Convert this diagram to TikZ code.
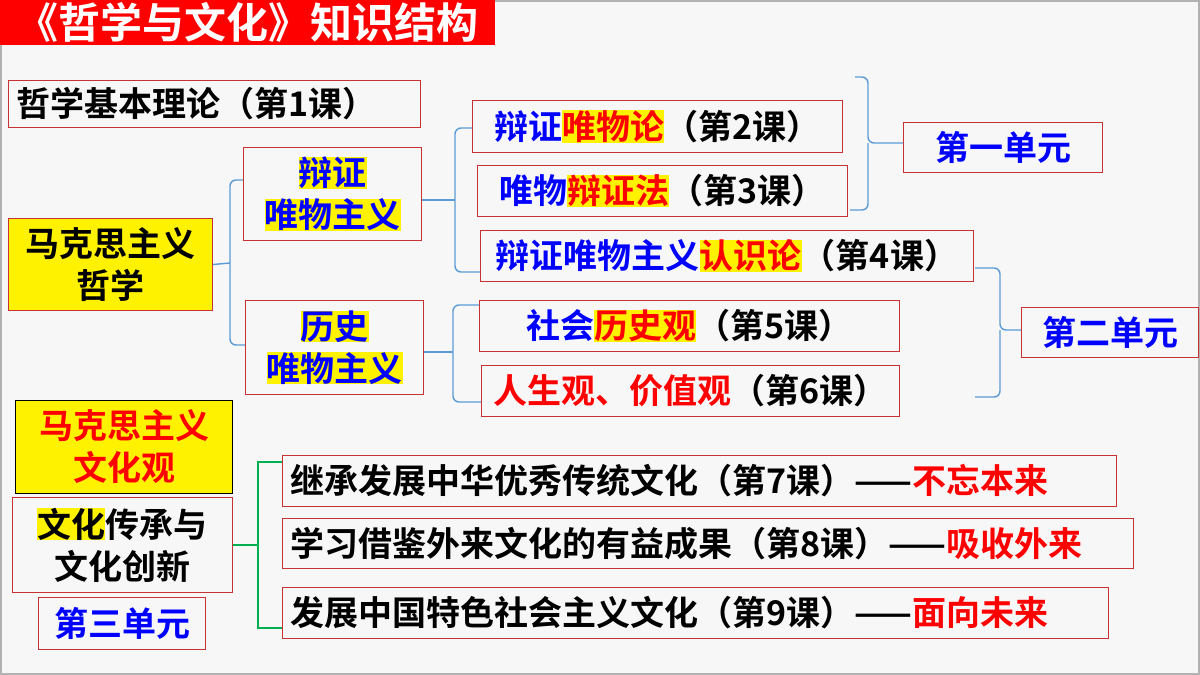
\documentclass[tikz,border=0pt]{standalone}
\usepackage{fontspec}
\setmainfont{Noto Sans CJK SC}[BoldFont={* Bold}]
\usetikzlibrary{positioning}
\definecolor{lineblue}{RGB}{91,155,213}
\definecolor{linegreen}{RGB}{0,176,80}
\definecolor{boxred}{RGB}{200,50,50}
\definecolor{txtblue}{RGB}{0,0,255}
\definecolor{txtred}{RGB}{255,0,0}
\newcommand\hly[1]{{\setlength\fboxsep{0pt}\colorbox{yellow}{#1}}}
\tikzset{
  lbox/.style={draw=boxred, line width=1pt, anchor=north west, inner sep=0pt,
    font=\fontsize{34}{42}\selectfont\bfseries, align=center},
  lleft/.style={lbox, text width=#1, align=left, inner xsep=8pt},
  brace/.style={draw=lineblue, line width=1.4pt, rounded corners=6pt},
}
\begin{document}
\begin{tikzpicture}[x=1pt, y=-1pt]
    \fill[gray!6] (0,0) rectangle (1200,675);
    \draw[gray!60, line width=2pt] (1,1) rectangle (1199,674);
    % Title
    \node [fill=txtred, anchor=north west, minimum width=495pt, minimum height=45pt, inner sep=0pt,
      text=white, font=\fontsize{42}{44}\selectfont\bfseries] (title) at (0,0) {《哲学与文化》知识结构};

    % Left column
    \node [lleft=396pt, minimum height=47pt] (k1) at (8,80) {哲学基本理论（第1课）};
    \node [lbox, fill=yellow, minimum width=204pt, minimum height=92pt] (mkzx) at (8,218) {马克思主义\\哲学};
    \node [lbox, minimum width=178pt, minimum height=93pt, text=txtblue] (bzwz) at (243,147) {\hly{辩证}\\\hly{唯物主义}};
    \node [lbox, minimum width=178pt, minimum height=94pt, text=txtblue] (lswz) at (245,300) {\hly{历史}\\\hly{唯物主义}};

    % Lessons 2-6
    \node [lbox, minimum width=370pt, minimum height=52pt] (k2) at (472,100) {\textcolor{txtblue}{辩证\hly{\textcolor{txtred}{唯物论}}}（第2课）};
    \node [lbox, minimum width=370pt, minimum height=51pt] (k3) at (477,165) {\textcolor{txtblue}{唯物\hly{\textcolor{txtred}{辩证法}}}（第3课）};
    \node [lbox, minimum width=493pt, minimum height=51pt] (k4) at (480,230) {\textcolor{txtblue}{辩证唯物主义\hly{\textcolor{txtred}{认识论}}}（第4课）};
    \node [lbox, minimum width=420pt, minimum height=51pt] (k5) at (479,300) {\textcolor{txtblue}{社会\hly{\textcolor{txtred}{历史观}}}（第5课）};
    \node [lbox, minimum width=418pt, minimum height=51pt] (k6) at (481,365) {\textcolor{txtred}{人生观、价值观}（第6课）};

    % Units
    \node [lbox, minimum width=199pt, minimum height=50pt, text=txtblue] (u1) at (903,122) {第一单元};
    \node [lbox, minimum width=177pt, minimum height=50pt, text=txtblue] (u2) at (1021,307) {第二单元};

    % Culture part
    \node [lbox, draw=black, fill=yellow, minimum width=217pt, minimum height=93pt, text=txtred] (mkwh) at (15,400) {马克思主义\\文化观};
    \node [lbox, minimum width=220pt, minimum height=95pt] (whcc) at (12,497) {\hly{文化}传承与\\文化创新};
    \node [lbox, minimum width=167pt, minimum height=52pt, text=txtblue] (u3) at (38,597) {第三单元};
    \node [lleft=818pt, minimum height=51pt] (k7) at (282,455) {继承发展中华优秀传统文化（第7课）——\textcolor{txtred}{不忘本来}};
    \node [lleft=835pt, minimum height=50pt] (k8) at (282,518) {学习借鉴外来文化的有益成果（第8课）——\textcolor{txtred}{吸收外来}};
    \node [lleft=810pt, minimum height=51pt] (k9) at (282,587) {发展中国特色社会主义文化（第9课）——\textcolor{txtred}{面向未来}};

    % Brackets
    \draw [brace] (mkzx.east) -- (230,263);
    \draw [brace] (bzwz.west |- 0,180) -- (230,180) -- (230,345) -- (lswz.west |- 0,345);
    \draw [brace] (bzwz.east |- 0,200) -- (455,200);
    \draw [brace] (k2.west |- 0,128) -- (455,128) -- (455,272) -- (k4.west |- 0,272);
    \draw [brace] (lswz.east |- 0,352) -- (453,352);
    \draw [brace] (k5.west |- 0,305) -- (453,305) -- (453,402) -- (k6.west |- 0,402);
    \draw [brace] (855,77) -- (868,77) -- (868,143) -- (u1.west |- 0,143);
    \draw [brace] (850,210) -- (868,210) -- (868,143);
    \draw [brace] (975,268) -- (1000,268) -- (1000,330) -- (u2.west |- 0,330);
    \draw [brace] (975,397) -- (1000,397) -- (1000,330);
    \draw [linegreen, line width=1.6pt] (whcc.east |- 0,545) -- (258,545);
    \draw [linegreen, line width=1.6pt] (k7.west |- 0,462) -- (258,462) -- (258,628) -- (k9.west |- 0,628);
\end{tikzpicture}
\end{document}
